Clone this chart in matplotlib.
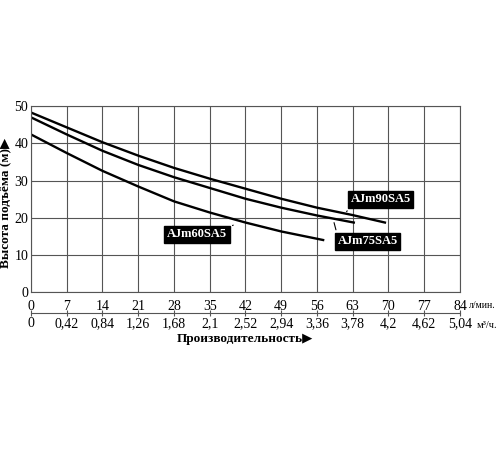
import matplotlib.pyplot as plt

# Напорные характеристики насосов AJm
flow_ticks = [0, 7, 14, 21, 28, 35, 42, 49, 56, 63, 70, 77, 84]
m3h_labels = ['0', '0,42', '0,84', '1,26', '1,68', '2,1', '2,52', '2,94',
              '3,36', '3,78', '4,2', '4,62', '5,04']
head_ticks = [0, 10, 20, 30, 40, 50]

q90 = [0, 7, 14, 21, 28, 35, 42, 49, 56, 63, 69.3]
h90 = [48.3, 44.3, 40.3, 36.7, 33.4, 30.5, 27.8, 25.1, 22.7, 20.7, 18.7]

q75 = [0, 7, 14, 21, 28, 35, 42, 49, 56, 63.2]
h75 = [47.0, 42.4, 38.0, 34.2, 30.9, 28.0, 25.1, 22.7, 20.6, 18.7]

q60 = [0, 7, 14, 21, 28, 35, 42, 49, 57.2]
h60 = [42.4, 37.4, 32.6, 28.4, 24.4, 21.4, 18.7, 16.3, 14.0]

fam = ['Liberation Serif', 'DejaVu Sans']
plt.rcParams['font.family'] = fam

fig = plt.figure(figsize=(5, 4.5), dpi=100)
ax = fig.add_axes([0.062, 0.351, 0.858, 0.413])

ax.plot(q90, h90, color='black', lw=1.7)
ax.plot(q75, h75, color='black', lw=1.7)
ax.plot(q60, h60, color='black', lw=1.7)

ax.set_xlim(0, 84)
ax.set_ylim(0, 50)
ax.set_xticks(flow_ticks)
ax.set_yticks(head_ticks)
ax.grid(True, color='#555555', lw=0.8)
for s in ax.spines.values():
    s.set_color('#555555')
    s.set_linewidth(0.8)
ax.tick_params(length=0, labelsize=10)
ax.tick_params(axis='x', pad=6)
ax.tick_params(axis='y', pad=2)

# вторая шкала м3/ч
sec = ax.secondary_xaxis(-0.113, functions=(lambda x: x * 0.06, lambda x: x / 0.06))
sec.set_xticks([t * 0.06 for t in flow_ticks])
sec.set_xticklabels(m3h_labels)
sec.spines['bottom'].set_color('#555555')
sec.tick_params(direction='inout', length=4, color='#555555', labelsize=10, pad=1)

ax.text(1.022, -0.07, 'л/мин.', transform=ax.transAxes, fontsize=7,
        ha='left', va='center')
ax.text(1.04, -0.18, 'м³/ч.', transform=ax.transAxes, fontsize=7.5,
        ha='left', va='center')

fig.text(0.49, 0.247, 'Производительность▶', fontsize=9.5, fontweight='bold',
         ha='center', va='center', family=fam)
fig.text(0.013, 0.55, 'Высота подъёма (м)▶', fontsize=9.5, fontweight='bold',
         rotation=90, ha='center', va='center', family=fam)

box = dict(boxstyle='square,pad=0.2', fc='black', ec='black')
lbl = dict(fontsize=9, fontweight='bold', color='white', ha='center', va='center', bbox=box)
ax.annotate('AJm90SA5', xy=(61.5, 21.0), xytext=(68.5, 24.9),
            arrowprops=dict(arrowstyle='-', color='black', lw=0.8, relpos=(0, 0)), **lbl)
ax.annotate('AJm75SA5', xy=(59.2, 19.4), xytext=(65.9, 13.6),
            arrowprops=dict(arrowstyle='-', color='black', lw=0.8, relpos=(0, 1)), **lbl)
ax.annotate('AJm60SA5', xy=(39.6, 18.0), xytext=(32.5, 15.5),
            arrowprops=dict(arrowstyle='-', color='black', lw=0.8, relpos=(1, 1)), **lbl)

fig.savefig('out.png', dpi=100)
